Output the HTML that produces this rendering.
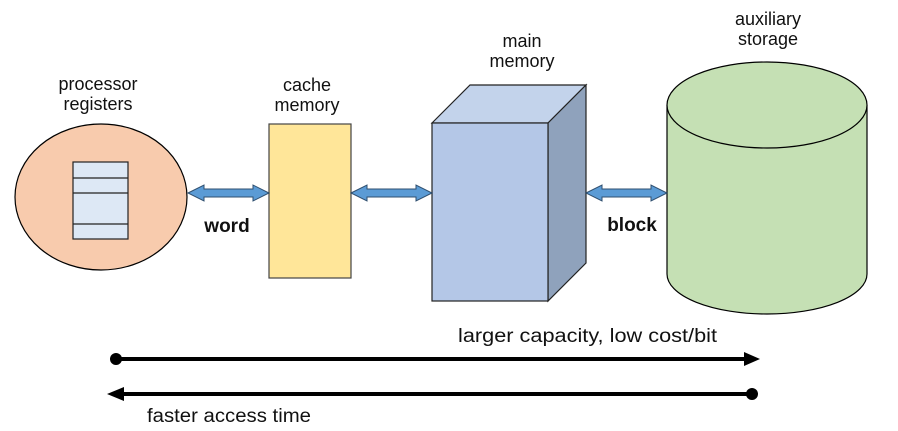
<!DOCTYPE html>
<html><head><meta charset="utf-8"><style>
html,body{margin:0;padding:0;background:#fff;}
svg{display:block;font-family:"Liberation Sans",sans-serif;}
</style></head><body>
<svg width="898" height="431" viewBox="0 0 898 431" xmlns="http://www.w3.org/2000/svg">
<defs>
<g id="dar">
<polygon points="0,0 16,-8 16,-4 65,-4 65,-8 81,0 65,8 65,4 16,4 16,8" fill="#5b9bd5" stroke="#2f4f6f" stroke-width="1"/>
</g>
</defs>
<ellipse cx="101" cy="197" rx="86" ry="73" fill="#f8cbad" stroke="#000" stroke-width="1.2"/>
<rect x="73" y="162" width="55" height="77" fill="#dde8f5" stroke="#222" stroke-width="1.2"/>
<line x1="73" y1="178" x2="128" y2="178" stroke="#222" stroke-width="1.2"/>
<line x1="73" y1="193" x2="128" y2="193" stroke="#222" stroke-width="1.2"/>
<line x1="73" y1="224" x2="128" y2="224" stroke="#222" stroke-width="1.2"/>
<rect x="269" y="124" width="82" height="154" fill="#ffe699" stroke="#444" stroke-width="1.2"/>
<polygon points="432,123 470,85 586,85 548,123" fill="#c3d3eb" stroke="#222" stroke-width="1.2"/>
<polygon points="548,123 586,85 586,263 548,301" fill="#8fa2bc" stroke="#222" stroke-width="1.2"/>
<rect x="432" y="123" width="116" height="178" fill="#b4c7e7" stroke="#222" stroke-width="1.2"/>
<path d="M667,105 L667,274 A100,40 0 0 0 867,274 L867,105" fill="#c5e0b4" stroke="#000" stroke-width="1.2"/>
<ellipse cx="767" cy="105" rx="100" ry="43" fill="#c5e0b4" stroke="#000" stroke-width="1.2"/>
<use href="#dar" x="188" y="193"/>
<use href="#dar" x="351" y="193"/>
<use href="#dar" x="586" y="193"/>
<g font-size="18" fill="#111" text-anchor="middle">
<text x="98" y="90">processor</text>
<text x="98" y="110">registers</text>
<text x="307" y="91">cache</text>
<text x="307" y="111">memory</text>
<text x="522" y="47">main</text>
<text x="522" y="67">memory</text>
<text x="768" y="25">auxiliary</text>
<text x="768" y="45">storage</text>
<text x="227" y="232" font-weight="bold" font-size="19">word</text>
<text x="632" y="231" font-weight="bold" font-size="19">block</text>
</g>
<text x="458" y="342" font-size="19" fill="#111" textLength="259" lengthAdjust="spacingAndGlyphs">larger capacity, low cost/bit</text>
<text x="147" y="422" font-size="19" fill="#111" textLength="164" lengthAdjust="spacingAndGlyphs">faster access time</text>
<line x1="116" y1="359" x2="748" y2="359" stroke="#000" stroke-width="4"/>
<circle cx="116" cy="359" r="6" fill="#000"/>
<polygon points="744,352 760,359 744,366" fill="#000"/>
<line x1="118" y1="394" x2="752" y2="394" stroke="#000" stroke-width="4"/>
<circle cx="752" cy="394" r="6" fill="#000"/>
<polygon points="124,387 107,394 124,401" fill="#000"/>
</svg>
</body></html>
